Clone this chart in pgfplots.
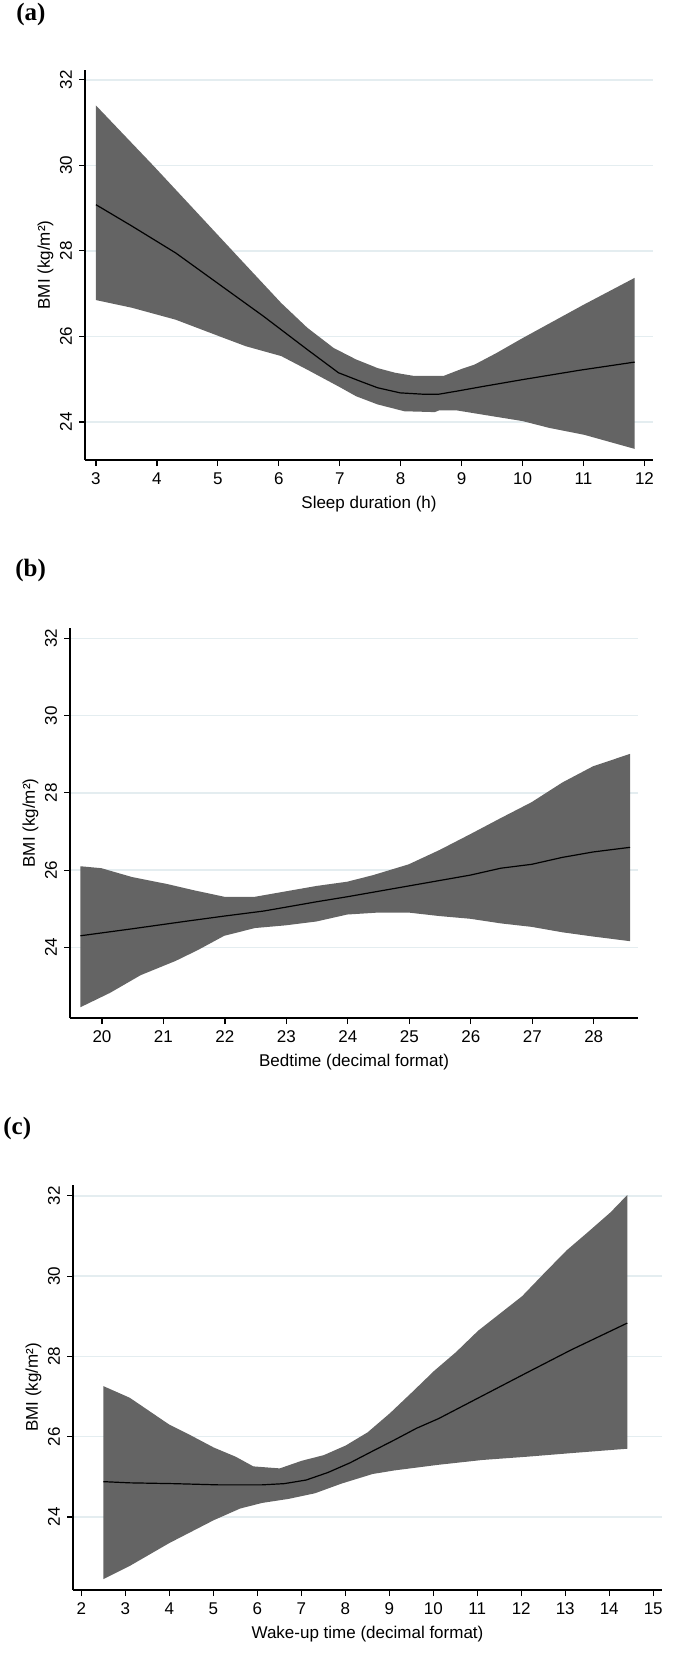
\documentclass[border=0pt]{standalone}
\usepackage{fontspec}
\setmainfont{Liberation Sans}
\newfontfamily\titlefont{Liberation Serif}
\usepackage{pgfplots}
\pgfplotsset{compat=1.18}
\usepgfplotslibrary{fillbetween}
\definecolor{bandc}{RGB}{100,100,100}
\definecolor{gridc}{RGB}{228,237,240}
\pgfplotsset{panel/.style={
  scale only axis,
  anchor=north west,
  axis lines=left,
  axis line style={-, line width=0.6pt, black},
  tick align=outside,
  major tick length=3pt,
  tick style={line width=0.6pt, black},
  ymajorgrids,
  grid style={gridc, line width=0.7pt},
  ytick={24,26,28,30,32},
  scaled ticks=false,
  font=\fontsize{8.5}{10}\selectfont,
  /pgf/number format/assume math mode=true,
  yticklabel style={rotate=90, anchor=south},
  ylabel={BMI (kg/m²)},
  ylabel style={rotate=0},
}}
\begin{document}
\begin{tikzpicture}
% titles
\node[anchor=west, inner sep=0pt] at (8pt,-7.25pt) {\titlefont\bfseries\fontsize{12.5}{14}\selectfont (a)};
\node[anchor=west, inner sep=0pt] at (7.5pt,-285pt) {\titlefont\bfseries\fontsize{12.5}{14}\selectfont (b)};
\node[anchor=west, inner sep=0pt] at (1.5pt,-564pt) {\titlefont\bfseries\fontsize{12.5}{14}\selectfont (c)};

% ---------------- (a)
\begin{axis}[panel, at={(42.5pt,-35pt)}, width=284pt, height=195pt,
  xmin=2.82, xmax=12.14, ymin=23.11, ymax=32.23,
  xtick={3,4,5,6,7,8,9,10,11,12},
  xlabel={Sleep duration (h)},
  xlabel style={at={(axis description cs:0.5,-0.1128)}, anchor=center},
  ylabel style={at={(axis description cs:-0.0695,0.5)}, anchor=center}]
\addplot[name path=up, draw=none] coordinates {
(3.00,31.40) (3.95,29.98) (4.74,28.77) (5.32,27.88) (6.04,26.78) (6.47,26.20)
(6.90,25.73) (7.27,25.46) (7.62,25.26) (7.91,25.15) (8.20,25.08) (8.71,25.08)
(9.00,25.24) (9.21,25.34) (9.57,25.61) (10.00,25.96) (10.50,26.35) (11.00,26.74)
(11.52,27.13) (11.84,27.37)};
\addplot[name path=lo, draw=none] coordinates {
(3.00,26.85) (3.59,26.67) (4.31,26.39) (5.03,26.00) (5.46,25.77) (6.04,25.54)
(6.47,25.22) (6.98,24.83) (7.27,24.60) (7.62,24.41) (8.06,24.25) (8.56,24.23)
(8.63,24.27) (8.92,24.27) (9.35,24.17) (10.00,24.02) (10.44,23.86) (11.01,23.70)
(11.84,23.37)};
\addplot[bandc] fill between[of=up and lo];
\addplot[black, line width=0.6pt] coordinates {
(3.00,29.08) (3.59,28.58) (4.31,27.95) (5.03,27.21) (5.75,26.47) (6.47,25.69)
(6.98,25.15) (7.34,24.95) (7.62,24.80) (7.99,24.68) (8.35,24.65) (8.63,24.65)
(8.92,24.72) (9.35,24.83) (10.00,24.99) (10.94,25.21) (11.84,25.40)};
\end{axis}

% ---------------- (b)
\begin{axis}[panel, at={(35pt,-314pt)}, width=284pt, height=195pt,
  xmin=19.48, xmax=28.72, ymin=22.17, ymax=32.27,
  xtick={20,21,22,23,24,25,26,27,28},
  xlabel={Bedtime (decimal format)},
  xlabel style={at={(axis description cs:0.5,-0.1128)}, anchor=center},
  ylabel style={at={(axis description cs:-0.0695,0.5)}, anchor=center}]
\addplot[name path=up, draw=none] coordinates {
(19.65,26.10) (19.99,26.05) (20.49,25.82) (21.06,25.64) (21.49,25.48) (21.99,25.31)
(22.49,25.31) (22.99,25.45) (23.49,25.59) (23.99,25.70) (24.41,25.87) (24.99,26.15)
(25.49,26.52) (25.99,26.93) (26.49,27.35) (26.99,27.76) (27.49,28.27) (27.99,28.69)
(28.59,29.01)};
\addplot[name path=lo, draw=none] coordinates {
(19.65,22.45) (20.13,22.82) (20.63,23.28) (21.20,23.65) (21.56,23.93) (21.99,24.30)
(22.49,24.50) (22.99,24.57) (23.49,24.67) (23.99,24.85) (24.49,24.90) (24.99,24.90)
(25.49,24.81) (25.99,24.74) (26.49,24.62) (26.99,24.53) (27.49,24.39) (27.99,24.28)
(28.59,24.16)};
\addplot[bandc] fill between[of=up and lo];
\addplot[black, line width=0.6pt] coordinates {
(19.65,24.30) (20.49,24.48) (21.34,24.67) (21.99,24.81) (22.63,24.94) (22.99,25.04)
(23.49,25.18) (23.99,25.31) (24.49,25.45) (24.99,25.59) (25.49,25.73) (25.99,25.87)
(26.49,26.05) (26.99,26.15) (27.49,26.33) (27.99,26.47) (28.59,26.59)};
\end{axis}

% ---------------- (c)
\begin{axis}[panel, at={(36.5pt,-592.5pt)}, width=294.5pt, height=202.5pt,
  xmin=1.81, xmax=15.2, ymin=22.18, ymax=32.27,
  xtick={2,3,4,5,6,7,8,9,10,11,12,13,14,15},
  xlabel={Wake-up time (decimal format)},
  xlabel style={at={(axis description cs:0.5,-0.1086)}, anchor=center},
  ylabel style={at={(axis description cs:-0.067,0.5)}, anchor=center}]
\addplot[name path=up, draw=none] coordinates {
(2.50,27.26) (3.10,26.97) (4.00,26.30) (4.51,26.02) (5.01,25.73) (5.51,25.50)
(5.91,25.26) (6.51,25.21) (7.01,25.40) (7.51,25.54) (8.01,25.78) (8.51,26.11)
(9.02,26.59) (9.52,27.11) (10.02,27.64) (10.52,28.11) (11.02,28.64) (11.52,29.07)
(12.02,29.50) (12.52,30.07) (13.03,30.64) (13.53,31.11) (14.03,31.59) (14.41,32.02)};
\addplot[name path=lo, draw=none] coordinates {
(2.50,22.45) (3.10,22.78) (4.00,23.35) (5.01,23.92) (5.61,24.21) (6.11,24.35)
(6.71,24.45) (7.31,24.59) (7.91,24.83) (8.62,25.07) (9.12,25.16) (10.12,25.30)
(11.12,25.42) (12.12,25.50) (13.13,25.59) (14.41,25.70)};
\addplot[bandc] fill between[of=up and lo];
\addplot[black, line width=0.6pt] coordinates {
(2.50,24.88) (3.10,24.85) (4.10,24.83) (5.11,24.80) (6.11,24.80) (6.61,24.83)
(7.11,24.92) (7.61,25.11) (8.11,25.35) (8.62,25.64) (9.12,25.92) (9.62,26.21)
(10.12,26.45) (11.12,27.02) (12.12,27.59) (13.13,28.16) (14.41,28.83)};
\end{axis}
\pgfresetboundingbox
\path[use as bounding box] (0pt,0pt) rectangle (344pt,-829pt);
\end{tikzpicture}
\end{document}
